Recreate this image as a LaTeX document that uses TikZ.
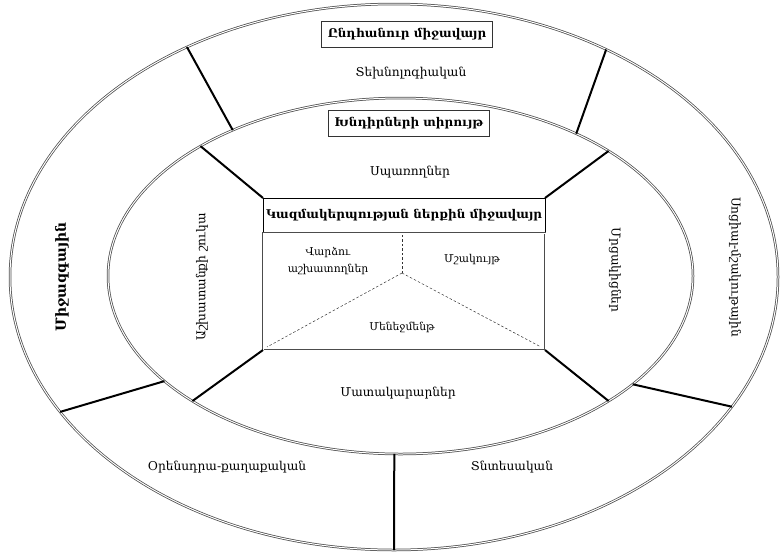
\documentclass[tikz,border=0pt]{standalone}
\usepackage{fontspec}
\setmainfont{DejaVu Serif}
\usetikzlibrary{shapes.geometric,calc}

\begin{document}
\begin{tikzpicture}[x=1pt,y=-1pt,
  ring/.style={ellipse, draw=black!70, double=white, double distance=1pt,
               line width=0.75pt, inner sep=0pt, outer sep=0pt},
  spoke/.style={line width=2pt, draw=black},
  lbl/.style={font=\fontsize{12.2}{15}\selectfont, inner sep=1pt},
  smalllbl/.style={font=\fontsize{10.8}{17}\selectfont, inner sep=1pt, align=center},
  titlebox/.style={draw=black!80, line width=0.8pt, fill=white,
                   font=\fontsize{12}{14}\selectfont\bfseries,
                   minimum height=26pt, inner xsep=6pt},
  innerbox/.style={draw=black!70, double=white, double distance=1pt,
                   line width=0.7pt, inner sep=0pt, outer sep=0pt},
  divider/.style={line width=0.5pt, draw=black!80, dash pattern=on 2.5pt off 2pt}
]
\useasboundingbox (0,0) rectangle (781,552);

% the two rings of the environment
\node[ring, minimum width=768pt, minimum height=546pt] (outer) at (394,277) {};
\node[ring, minimum width=585pt, minimum height=356pt] (inner) at (400.5,276) {};

% the organisation in the middle
\node[draw=black, line width=0.8pt, fill=white, anchor=north west,
      minimum width=282pt, minimum height=35pt, inner sep=0pt, outer sep=0pt,
      font=\fontsize{12}{14}\selectfont\bfseries] (head) at (263,198)
      {Կազմակերպության ներքին միջավայր};
\node[innerbox, anchor=north west, minimum width=282pt, minimum height=117pt]
      (body) at (263,233) {};

\coordinate (hub) at (402,273);
\coordinate (bl) at ($(body.south west)+(4,-3)$);
\coordinate (br) at ($(body.south east)+(-4,-3)$);
\draw[divider] (hub) -- (hub |- body.north);
\draw[divider] (hub) -- (bl);
\draw[divider] (hub) -- (br);

% spokes between the rings
\draw[spoke] (outer.132)   -- (inner.139.8);
\draw[spoke] (outer.47.3)  -- (inner.39.2);
\draw[spoke] (outer.202.8) -- (inner.204.6);
\draw[spoke] (outer.339)   -- (inner.335.5);
\draw[spoke] (outer.270.6) -- (inner.268.9);

% spokes from the organisation to the inner ring
\draw[spoke] (head.north west) -- (inner.147.9);
\draw[spoke] (head.north east) -- (inner.31.1);
\draw[spoke] (body.south west) -- (inner.211.4);
\draw[spoke] (body.south east) -- (inner.329.6);

% ring titles
\node[titlebox] (general) at (407,34) {Ընդհանուր միջավայր};
\node[titlebox] (task) at (409,123) {Խնդիրների տիրույթ};

% outer ring sectors
\node[lbl] (tech) at (411,73) {Տեխնոլոգիական};
\node[lbl, rotate=90, font=\fontsize{14}{16}\selectfont\bfseries] (intl) at (62,277) {Միջազգային};
\node[lbl, rotate=-90] (soc) at (735,267) {Սոցիալ-մշակութային};
\node[lbl] (law) at (227,467) {Օրենսդրա-քաղաքական};
\node[lbl] (econ) at (512,467) {Տնտեսական};

% inner ring sectors
\node[lbl] (cust) at (410,172) {Սպառողներ};
\node[lbl, rotate=90] (labour) at (202,277) {Աշխատանքի շուկա};
\node[lbl, rotate=-90] (comp) at (615,270) {Մրցակիցներ};
\node[lbl] (supp) at (398,393) {Մատակարարներ};

% parts of the organisation
\node[smalllbl] (staff) at (328,261) {Վարձու\\աշխատողներ};
\node[smalllbl] (cult) at (472,260) {Մշակույթ};
\node[smalllbl] (mgmt) at (402,327) {Մենեջմենթ};
\end{tikzpicture}
\end{document}
